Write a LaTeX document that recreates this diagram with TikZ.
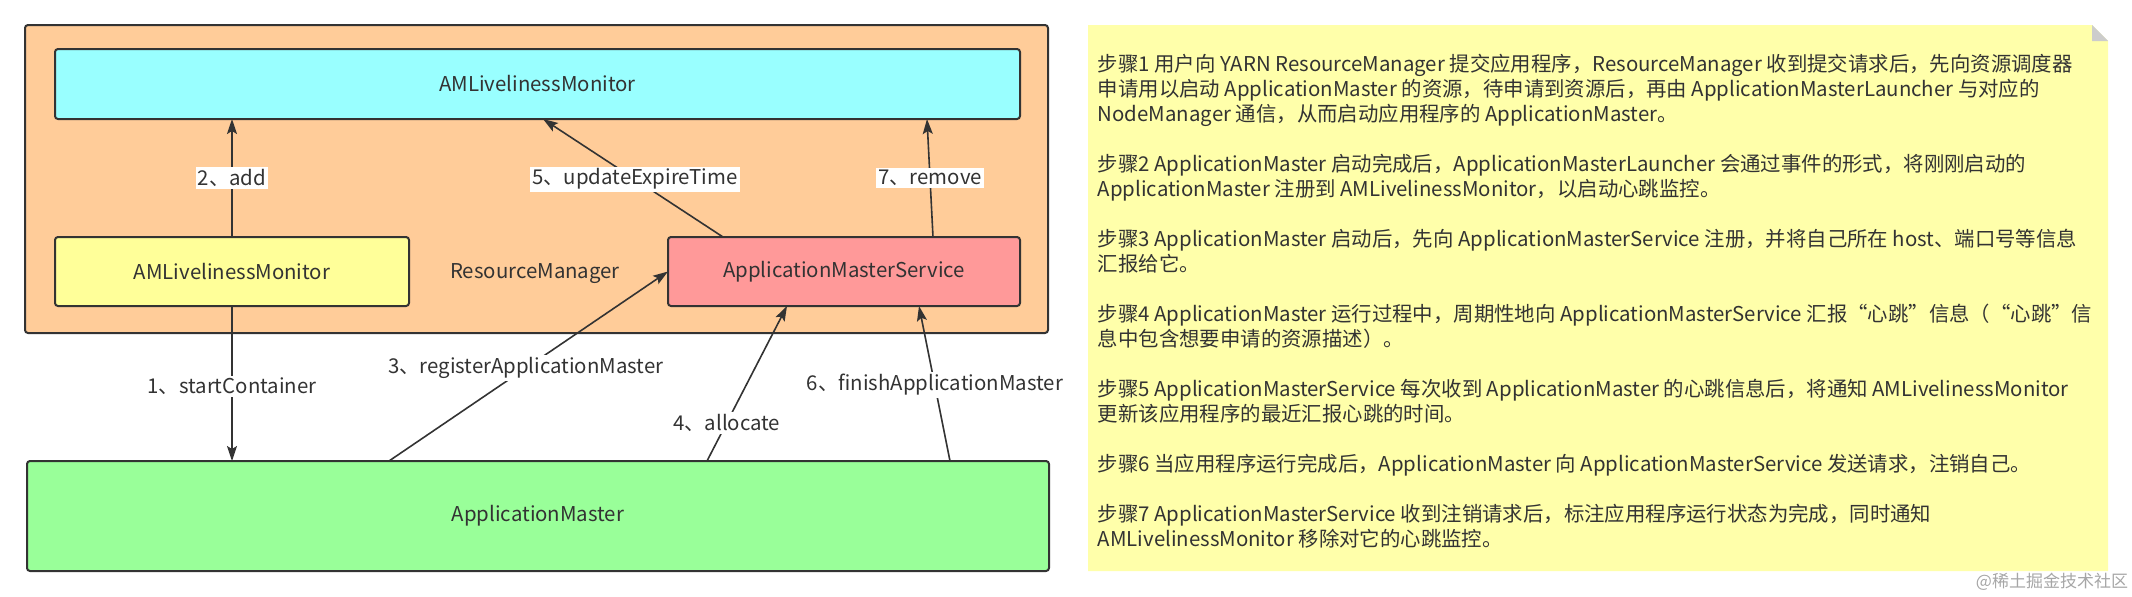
\documentclass[tikz,border=0pt]{standalone}
\usepackage{fontspec}
\setmainfont{Noto Sans CJK SC}
\usetikzlibrary{arrows.meta, positioning}
\definecolor{rmorange}{HTML}{FFCC99}
\definecolor{moncyan}{HTML}{99FFFF}
\definecolor{liveyellow}{HTML}{FFFF99}
\definecolor{servpink}{HTML}{FF9999}
\definecolor{amgreen}{HTML}{99FF99}
\definecolor{noteyellow}{HTML}{FFFFAA}
\definecolor{ink}{HTML}{333333}

\begin{document}
\begin{tikzpicture}[x=0.5pt,y=-0.5pt,->,>={Stealth[length=7.5pt,width=5pt,inset=1.5pt]},
  line width=0.8pt,draw=ink,text=ink,font=\fontsize{10.2pt}{12.5pt}\selectfont,
  main node/.style={rectangle,rounded corners=1.5pt,draw=ink,line width=1pt,inner sep=0pt,outer sep=0pt}]
  \useasboundingbox (0,0) rectangle (2132,596);
  \node[main node, fill=rmorange, minimum width=511.5pt, minimum height=154pt] (rm) at (536.5,179) {};
  \node[main node, fill=moncyan, minimum width=482.5pt, minimum height=35pt] (monitor) at (537.5,84) {AMLivelinessMonitor};
  \node[main node, fill=liveyellow, minimum width=177pt, minimum height=34.5pt] (livemon) at (232,271.5) {AMLivelinessMonitor};
  \node[main node, fill=servpink, minimum width=176pt, minimum height=34.5pt] (amservice) at (844,271.5) {ApplicationMasterService};
  \node (rmlabel) at (535,274) {ResourceManager};
  \node[main node, fill=amgreen, minimum width=511pt, minimum height=55pt] (am) at (538,516) {ApplicationMaster};
  \path[every node/.style={fill=white,inner sep=1pt}]
    (livemon.south) edge node[pos=.52]{1、startContainer} (livemon.south |- am.north)
    (livemon.north) edge node{2、add} (livemon.north |- monitor.south)
    ([xshift=-74.5pt]am.north) edge node[pos=.49]{3、registerApplicationMaster} (amservice.west)
    ([xshift=84.5pt]am.north) edge node[pos=.245]{4、allocate} ([xshift=-28.5pt]amservice.south)
    ([xshift=-60.5pt]amservice.north) edge node[pos=.49]{5、updateExpireTime} ([xshift=2.75pt]monitor.south)
    ([xshift=206pt]am.north) edge node[pos=.49]{6、finishApplicationMaster} ([xshift=37.5pt]amservice.south)
    ([xshift=44.5pt]amservice.north) edge node{7、remove} ([xshift=194.75pt]monitor.south);
  % note on the right
  \fill[noteyellow] (1088,25) -- (2092,25) -- (2108,41) -- (2108,571) -- (1088,571) -- cycle;
  \fill[black!20] (2092,25) -- (2108,41) -- (2092,41) -- cycle;
  \node[anchor=north west, align=left, inner sep=0pt] (steps) at (1097,53) {%
    步骤1 用户向 YARN ResourceManager 提交应用程序，ResourceManager 收到提交请求后，先向资源调度器\\
    申请用以启动 ApplicationMaster 的资源，待申请到资源后，再由 ApplicationMasterLauncher 与对应的\\
    NodeManager 通信，从而启动应用程序的 ApplicationMaster。\\[12.5pt]
    步骤2 ApplicationMaster 启动完成后，ApplicationMasterLauncher 会通过事件的形式，将刚刚启动的\\
    ApplicationMaster 注册到 AMLivelinessMonitor，以启动心跳监控。\\[12.5pt]
    步骤3 ApplicationMaster 启动后，先向 ApplicationMasterService 注册，并将自己所在 host、端口号等信息\\
    汇报给它。\\[12.5pt]
    步骤4 ApplicationMaster 运行过程中，周期性地向 ApplicationMasterService 汇报“心跳”信息（“心跳”信\\
    息中包含想要申请的资源描述）。\\[12.5pt]
    步骤5 ApplicationMasterService 每次收到 ApplicationMaster 的心跳信息后，将通知 AMLivelinessMonitor\\
    更新该应用程序的最近汇报心跳的时间。\\[12.5pt]
    步骤6 当应用程序运行完成后，ApplicationMaster 向 ApplicationMasterService 发送请求，注销自己。\\[12.5pt]
    步骤7 ApplicationMasterService 收到注销请求后，标注应用程序运行状态为完成，同时通知\\
    AMLivelinessMonitor 移除对它的心跳监控。};
  \node[text=black!35, font=\fontsize{8.5pt}{10pt}\selectfont] (mark) at (2052,582) {@稀土掘金技术社区};
\end{tikzpicture}
\end{document}
